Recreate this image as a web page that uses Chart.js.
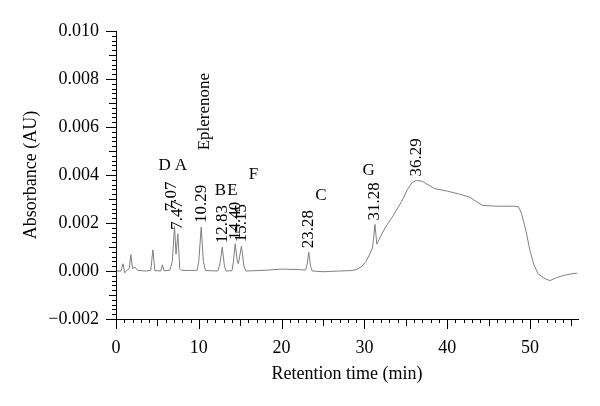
<!DOCTYPE html>
<html>
<head>
<meta charset="utf-8">
<title>Chromatogram</title>
<script src="https://cdn.jsdelivr.net/npm/chart.js@4.4.1/dist/chart.umd.min.js"></script>
<style>
  html,body{margin:0;padding:0;background:#fff;}
  #wrap{width:600px;height:406px;}
</style>
</head>
<body>
<div id="wrap"><canvas id="chrom-chart" width="600" height="406"></canvas></div>
<script>
/* ═══════════════════════════════════
   DATA
═══════════════════════════════════ */

// retention time (min) / absorbance (AU)
var traceTimes = [0.1,0.6,0.85,1.05,1.3,1.6,1.8,2.0,2.3,2.6,3.5,4.2,4.45,4.7,5.4,5.6,5.8,6.5,6.8,7.07,7.25,7.47,7.7,7.8,8.0,9.0,9.8,10.0,10.29,10.55,10.8,12.3,12.55,12.83,13.1,13.3,14.0,14.15,14.40,14.65,14.78,15.15,15.45,15.7,18.0,20.0,22.0,22.9,23.1,23.28,23.5,23.7,25.0,27.0,28.5,29.2,29.7,30.2,30.7,31.0,31.28,31.5,32.5,33.5,34.5,35.2,35.8,36.29,37.0,37.5,38.5,40.0,41.5,42.7,43.5,44.3,46.0,48.0,48.6,49.0,49.5,50.0,50.5,51.0,51.7,52.4,53.2,54.0,55.0,55.7];
var traceAbs = [0.00000,0.00000,0.00030,-0.00008,0.00003,0.00010,0.00068,0.00010,0.00016,0.00003,0.00000,0.00002,0.00088,0.00002,0.00000,0.00026,0.00001,0.00003,0.00040,0.00185,0.00070,0.00155,0.00010,0.00006,0.00003,0.00002,0.00003,0.00040,0.00183,0.00040,0.00002,0.00000,0.00030,0.00099,0.00020,0.00000,0.00001,0.00030,0.00113,0.00040,0.00030,0.00103,0.00020,0.00000,0.00003,0.00008,0.00006,0.00004,0.00030,0.00078,0.00020,0.00000,-0.00003,0.00000,0.00002,0.00008,0.00020,0.00040,0.00073,0.00100,0.00194,0.00112,0.00180,0.00232,0.00290,0.00340,0.00370,0.00377,0.00374,0.00363,0.00343,0.00333,0.00320,0.00308,0.00290,0.00273,0.00270,0.00270,0.00268,0.00238,0.00169,0.00085,0.00023,-0.00012,-0.00030,-0.00040,-0.00028,-0.00019,-0.00012,-0.00009];

// labelled peaks (retention times)
var peakTimes = [7.07,7.47,10.29,12.83,14.40,15.15,23.28,31.28,36.29];
var peakLabels = ['7.07','7.47','10.29','12.83','14.40','15.15','23.28','31.28','36.29'];

// compound names, placed at (min, AU)
var compoundNames = ['D','A','Eplerenone','B','E','F','C','G'];
var compoundTimes = [5.86,7.85,10.75,12.62,14.07,16.6,24.76,30.5];
var compoundLevels = [0.0042,0.0042,0.00503,0.00316,0.00316,0.00382,0.00295,0.00399];

var xTicks = [0,10,20,30,40,50];
var yTicks = [-0.002,0,0.002,0.004,0.006,0.008,0.010];
var X_MINOR = 1;
var Y_MINOR = 0.0002;

var SERIF = '"Liberation Serif","DejaVu Serif",serif';

document.addEventListener('DOMContentLoaded', function(){
  buildChromatogram();
});

function formatAbs(v){
  return Number(v).toFixed(3).replace('-','\u2212');
}

// minor / medium / major ticks, all outside the plot
var axisTicksPlugin = {
  id:'axisTicks',
  afterDraw:function(chart){
    var ctx = chart.ctx, xs = chart.scales.x, ys = chart.scales.y, a = chart.chartArea;
    ctx.save();
    ctx.strokeStyle = '#000';
    ctx.lineWidth = 1;
    ctx.beginPath();
    for(var i=0; i*X_MINOR <= xs.max+1e-9; i++){
      var px = Math.round(xs.getPixelForValue(i*X_MINOR))+0.5;
      var len = i%10===0 ? 10 : (i%5===0 ? 7 : 4);
      ctx.moveTo(px, a.bottom);
      ctx.lineTo(px, a.bottom+len);
    }
    var n = Math.round((ys.max-ys.min)/Y_MINOR);
    for(var j=0; j<=n; j++){
      var v = ys.min + j*Y_MINOR;
      var k = Math.round(v/Y_MINOR);
      var py = Math.round(ys.getPixelForValue(v))+0.5;
      var len2 = k%10===0 ? 10 : (k%5===0 ? 7 : 4);
      ctx.moveTo(a.left, py);
      ctx.lineTo(a.left-len2, py);
    }
    ctx.stroke();
    ctx.restore();
  }
};

// retention-time labels over peaks + compound names
var peakLabelPlugin = {
  id:'peakLabels',
  afterDatasetsDraw:function(chart){
    var ctx = chart.ctx, xs = chart.scales.x, ys = chart.scales.y;
    ctx.save();
    ctx.fillStyle = '#000';
    ctx.font = '17px '+SERIF;

    var items = peakTimes.map(function(t, i){
      var idx = traceTimes.indexOf(t);
      var px = xs.getPixelForValue(t);
      var bottom = ys.getPixelForValue(traceAbs[idx]) - 4;
      return {text:peakLabels[i], x:px, bottom:bottom, w:ctx.measureText(peakLabels[i]).width};
    });
    // push a label up (partly overlapping, as in the source) when it sits on its neighbour
    for(var i=items.length-2; i>=0; i--){
      var nx = items[i+1];
      if(Math.abs(nx.x-items[i].x) < 6){
        items[i].bottom = Math.min(items[i].bottom, nx.bottom - nx.w*0.62);
        items[i].x -= 3;
      }
    }
    items.forEach(function(it){
      ctx.save();
      ctx.translate(it.x, it.bottom);
      ctx.rotate(-Math.PI/2);
      ctx.textAlign = 'left';
      ctx.textBaseline = 'middle';
      ctx.fillText(it.text, 0, 0);
      ctx.restore();
    });

    compoundNames.forEach(function(name, i){
      var px = xs.getPixelForValue(compoundTimes[i]);
      var py = ys.getPixelForValue(compoundLevels[i]);
      ctx.save();
      if(name.length > 1){
        ctx.translate(px, py);
        ctx.rotate(-Math.PI/2);
        ctx.textAlign = 'left';
        ctx.textBaseline = 'middle';
        ctx.fillText(name, 0, 0);
      } else {
        ctx.textAlign = 'center';
        ctx.textBaseline = 'alphabetic';
        ctx.fillText(name, px, py);
      }
      ctx.restore();
    });
    ctx.restore();
  }
};

function buildChromatogram(){
  var ctx = document.getElementById('chrom-chart');
  if(!ctx || ctx._ch) return;
  ctx._ch = new Chart(ctx, {
    type:'line',
    data:{
      datasets:[{
        data:traceTimes.map(function(t, i){ return {x:t, y:traceAbs[i]}; }),
        borderColor:'#7f7f7f',
        borderWidth:1,
        pointRadius:0,
        tension:0,
        fill:false
      }]
    },
    options:{
      responsive:false,
      animation:false,
      layout:{padding:{top:31,right:22,left:0,bottom:0}},
      plugins:{
        legend:{display:false},
        tooltip:{enabled:false}
      },
      scales:{
        x:{
          type:'linear', min:0, max:55.8,
          afterBuildTicks:function(s){ s.ticks = xTicks.map(function(v){ return {value:v}; }); },
          afterFit:function(s){ s.height = 87; },
          grid:{display:false, drawTicks:false, tickLength:0},
          border:{display:true, color:'#000', width:1},
          ticks:{padding:18, color:'#000', autoSkip:false, maxRotation:0, font:{family:SERIF, size:18}},
          title:{display:true, text:'Retention time (min)', color:'#000', font:{family:SERIF, size:18}, padding:{top:0, bottom:21}}
        },
        y:{
          type:'linear', min:-0.002, max:0.010,
          afterBuildTicks:function(s){ s.ticks = yTicks.map(function(v){ return {value:v}; }); },
          afterFit:function(s){ s.width = 116; },
          grid:{display:false, drawTicks:false, tickLength:0},
          border:{display:true, color:'#000', width:1},
          ticks:{padding:17, color:'#000', autoSkip:false, font:{family:SERIF, size:18},
            callback:function(v){ return formatAbs(v); }},
          title:{display:true, text:'Absorbance (AU)', color:'#000', font:{family:SERIF, size:18}, padding:{top:20, bottom:0}}
        }
      }
    },
    plugins:[axisTicksPlugin, peakLabelPlugin]
  });
}
</script>
</body>
</html>
